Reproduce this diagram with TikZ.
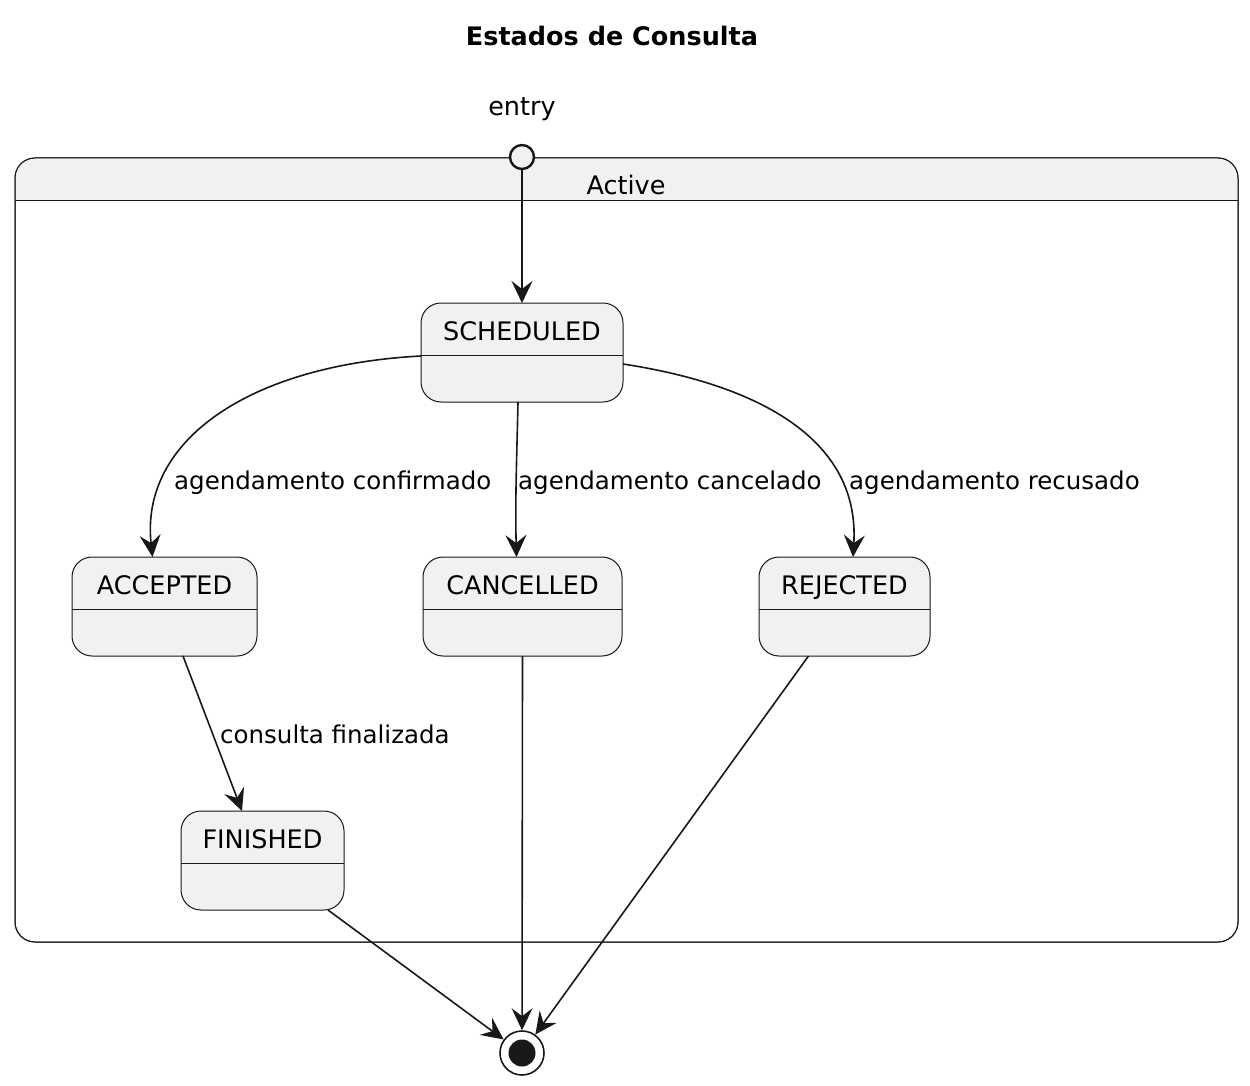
\documentclass[tikz,border=0pt]{standalone}
\usepackage{fontspec}
\setmainfont{DejaVu Sans}
\usetikzlibrary{arrows.meta,calc}
\definecolor{boxfill}{HTML}{F1F1F1}
\definecolor{ink}{HTML}{181818}
\tikzset{
  statebox/.style={draw=ink, fill=boxfill, line width=1pt, rounded corners=20pt, minimum height=99pt, inner sep=0pt, outer sep=0pt},
  statetext/.style={font=\fontsize{25.5}{30}\selectfont, text=black, inner sep=0pt, anchor=base},
  lbl/.style={font=\fontsize{24.5}{29}\selectfont, text=black, anchor=base west, inner sep=0pt},
  arr/.style={-{Stealth[length=22pt,width=21pt,inset=8pt]}, draw=ink, line width=1.6pt},
  framebox/.style={draw=ink, fill=white, line width=1pt, rounded corners=20pt, inner sep=0pt, outer sep=0pt},
}
\newcommand\mkstate[5]{%
  \node[statebox, minimum width=#4pt] (#1) at (#2,#3) {};
  \draw[ink, line width=1pt] ($(#1.north west)+(0,52)$) -- ($(#1.north east)+(0,52)$);
  \node[statetext] (#1t) at ($(#1.north)+(0,37.5)$) {#5};
}
\begin{document}
\begin{tikzpicture}[x=1pt,y=-1pt]
\useasboundingbox (0,0) rectangle (1250,1086);
% title
\node[font=\fontsize{25.5}{30}\selectfont\bfseries, inner sep=0pt, anchor=base] (title) at (612,46) {Estados de Consulta};
% frame
\node[framebox, minimum width=1223pt, minimum height=784pt] (active) at (626.5,550) {};
\fill[boxfill] ($(active.north west)+(0.5,43)$) [rounded corners=19.5pt] -- ($(active.north west)+(0.5,0.5)$) -- ($(active.north east)+(-0.5,0.5)$) [sharp corners] -- ($(active.north east)+(-0.5,43)$) -- cycle;
\draw[ink, line width=1pt, rounded corners=20pt] (active.south west) rectangle (active.north east);
\draw[ink, line width=1pt] ($(active.north west)+(0,43)$) -- ($(active.north east)+(0,43)$);
\node[statetext] (activet) at (626,195) {Active};
% entry
\node[statetext] (entryt) at (522,116) {entry};
\node[circle, draw=ink, fill=boxfill, line width=2.4pt, minimum size=24pt, inner sep=0pt] (entry) at (522,157) {};
% states
\mkstate{sch}{522}{352.5}{202}{SCHEDULED}
\mkstate{acc}{164.5}{606.5}{185}{ACCEPTED}
\mkstate{can}{522.5}{606.5}{199}{CANCELLED}
\mkstate{rej}{844.5}{606.5}{171}{REJECTED}
\mkstate{fini}{262.5}{860.5}{163}{FINISHED}
% final
\node[circle, draw=ink, fill=white, line width=1.6pt, minimum size=44pt, inner sep=0pt] (fin) at (522,1053) {};
\node[circle, fill=ink, minimum size=27pt, inner sep=0pt] (finin) at (fin.center) {};
% edges
\draw[arr] (entry.south) -- (sch.north);
\draw[arr] ($(sch.west)+(0,3.5)$) .. controls (250,365) and (140,440) .. ($(acc.north)+(-12,0)$);
\draw[arr] ($(sch.south)+(-4,0)$) .. controls (517,450) and (515,500) .. ($(can.north)+(-6,0)$);
\draw[arr] ($(sch.east)+(0,11.5)$) .. controls (760,385) and (860,440) .. ($(rej.north)+(8.5,0)$);
\node[lbl] (l1) at (174,489) {agendamento confirmado};
\node[lbl] (l2) at (518,489) {agendamento cancelado};
\node[lbl] (l3) at (849,489) {agendamento recusado};
\draw[arr] ($(acc.south)+(18.5,0)$) -- ($(fini.north)+(-20.5,0)$);
\node[lbl] (l4) at (220,743) {consulta finalizada};
\draw[arr] (can.south) -- (fin);
\draw[arr] ($(rej.south)+(-36,0)$) -- (fin);
\draw[arr] ($(fini.south)+(65.5,0)$) -- (fin);
\end{tikzpicture}
\end{document}
